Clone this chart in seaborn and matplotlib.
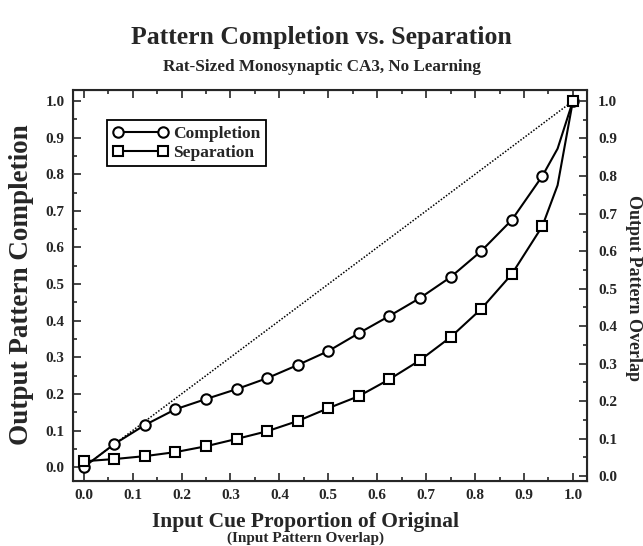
import seaborn as sns
import matplotlib.pyplot as plt
import matplotlib.ticker as mticker
import pandas as pd

#data
cue = [0.0, 0.0625, 0.125, 0.1875, 0.25, 0.3125, 0.375, 0.4375, 0.5, 0.5625,
       0.625, 0.6875, 0.75, 0.8125, 0.875, 0.9375, 0.96875, 1.0]
completion = [0.0, 0.063, 0.115, 0.158, 0.186, 0.213, 0.243, 0.279, 0.317, 0.366,
              0.413, 0.462, 0.519, 0.590, 0.675, 0.795, 0.87, 1.0]
separation = [0.016, 0.022, 0.030, 0.041, 0.057, 0.077, 0.098, 0.126, 0.161, 0.194,
              0.240, 0.292, 0.355, 0.432, 0.527, 0.658, 0.77, 1.0]
diag = [0.0, 1.0]
tick_vals = [0.0, 0.1, 0.2, 0.3, 0.4, 0.5, 0.6, 0.7, 0.8, 0.9, 1.0]
tick_labels = ["0.0", "0.1", "0.2", "0.3", "0.4", "0.5", "0.6", "0.7", "0.8", "0.9", "1.0"]

df = pd.DataFrame({"cue": cue, "completion": completion, "separation": separation})
marked = [i for i in range(len(cue)) if i != 16]

sns.set_style("ticks")
plt.rcParams['font.family'] = ['Liberation Serif', 'DejaVu Serif']
plt.rcParams['font.weight'] = 'bold'

fig = plt.figure(figsize=(6.43, 5.46), dpi=100)
ax = fig.add_axes([0.1135, 0.119, 0.7995, 0.716])

ax.plot(diag, diag, color="black", lw=1.1, linestyle=(0, (1, 1.1)), zorder=1)
sns.lineplot(ax=ax, data=df, x="cue", y="completion", color="black", lw=1.5,
             marker="o", markersize=7.5, markerfacecolor="white", markeredgecolor="black",
             markeredgewidth=1.5, markevery=marked, label="Completion", zorder=3)
sns.lineplot(ax=ax, data=df, x="cue", y="separation", color="black", lw=1.5,
             marker="s", markersize=6.8, markerfacecolor="white", markeredgecolor="black",
             markeredgewidth=1.5, markevery=marked, label="Separation", zorder=3)

ax.set_xlim(-0.022, 1.029)
ax.set_ylim(-0.038, 1.03)
ax.set_xticks(tick_vals)
ax.set_xticklabels(tick_labels)
ax.set_yticks(tick_vals)
ax.set_yticklabels(tick_labels)
ax.xaxis.set_minor_locator(mticker.MultipleLocator(0.05))
ax.yaxis.set_minor_locator(mticker.MultipleLocator(0.05))
ax.tick_params(which="both", direction="in", top=True, right=False, width=1.2)
ax.tick_params(which="major", length=6, labelsize=11, pad=6)
ax.tick_params(which="minor", length=3)
ax.set_xlabel("")
ax.set_ylabel("")
for s in ax.spines.values():
    s.set_linewidth(1.5)

#right axis, slightly different scale as in the scan
ax2 = ax.twinx()
ax2.set_ylim(-0.013, 1.029)
ax2.set_yticks(tick_vals)
ax2.set_yticklabels(tick_labels)
ax2.yaxis.set_minor_locator(mticker.MultipleLocator(0.05))
ax2.tick_params(which="both", direction="in", width=1.2)
ax2.tick_params(which="major", length=6, labelsize=11, pad=8)
ax2.tick_params(which="minor", length=3)
for lab in ax.get_xticklabels() + ax.get_yticklabels() + ax2.get_yticklabels():
    lab.set_fontweight("bold")

leg = ax.legend(loc="upper left", bbox_to_anchor=(0.05, 0.945), numpoints=2,
                handlelength=3.2, fancybox=False, framealpha=1, edgecolor="black",
                borderpad=0.3, labelspacing=0.2, handletextpad=0.3,
                prop={"weight": "bold", "size": 12.5})
leg.get_frame().set_linewidth(1.3)

fig.text(0.5, 0.932, "Pattern Completion vs. Separation", ha="center", va="center",
         fontsize=18.5, fontweight="bold")
fig.text(0.5, 0.877, "Rat-Sized Monosynaptic CA3, No Learning", ha="center", va="center",
         fontsize=12.3, fontweight="bold")
fig.text(0.475, 0.044, "Input Cue Proportion of Original", ha="center", va="center",
         fontsize=15.5, fontweight="bold")
fig.text(0.475, 0.014, "(Input Pattern Overlap)", ha="center", va="center",
         fontsize=11, fontweight="bold")
fig.text(0.034, 0.478, "Output Pattern Completion", ha="center", va="center",
         rotation=90, fontsize=19.5, fontweight="bold")
fig.text(0.985, 0.473, "Output Pattern Overlap", ha="center", va="center",
         rotation=-90, fontsize=13, fontweight="bold")

fig.savefig("out.png", dpi=100)
